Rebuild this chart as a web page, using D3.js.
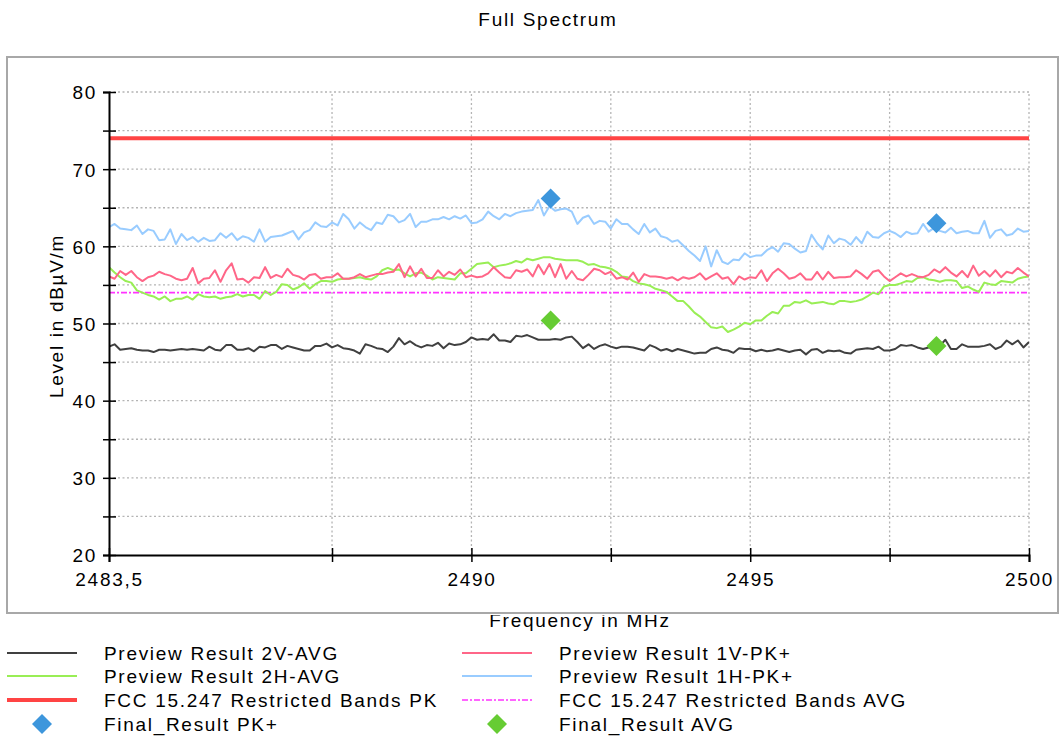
<!DOCTYPE html>
<html><head><meta charset="utf-8">
<script src="https://cdn.jsdelivr.net/npm/d3@7"></script>
<style>
html,body{margin:0;padding:0;background:#fff;}
text{font-family:"Liberation Sans",Arial,sans-serif;letter-spacing:1.7px;fill:#000;}
</style></head>
<body>
<svg id="chart" width="1064" height="738"></svg>
<script>
// ---- data ----
const chartTitle = "Full Spectrum";
const xTitle = "Frequency in MHz";
const yTitle = "Level in dBµV/m";
const freqStart = 2483.5;
const freqStep = 0.1;
const xDomain = [2483.5, 2500];
const yDomain = [20, 80];
const xTickValues = [2483.5, 2487.5, 2490, 2492.5, 2495, 2497.5, 2500];
const xTickLabels = ["2483,5", "", "2490", "", "2495", "", "2500"];
const yTickValues = [20, 25, 30, 35, 40, 45, 50, 55, 60, 65, 70, 75, 80];
const yTickLabels = ["20", "", "30", "", "40", "", "50", "", "60", "", "70", "", "80"];

const preview1H_PK = [62.5,62.9,62.3,62.2,62.1,62.7,61.6,62.2,62.0,60.8,60.9,62.2,60.3,61.6,60.8,61.2,60.6,61.1,60.7,60.8,61.7,61.1,61.7,60.8,61.3,61.1,60.6,62.2,60.6,
61.2,61.3,61.4,61.7,62.0,60.9,61.8,62.1,63.1,62.6,62.5,63.1,62.7,64.2,63.5,62.3,63.1,62.5,62.1,63.1,62.9,64.1,63.9,63.1,63.4,64.2,62.5,63.2,
63.2,63.5,63.5,63.8,63.5,63.9,63.6,64.0,63.0,63.1,63.5,64.5,63.9,63.5,64.2,63.9,64.3,64.5,64.6,64.7,66.0,64.0,65.2,64.6,64.8,64.9,64.5,62.9,63.7,
64.0,62.9,63.3,63.2,62.3,63.5,62.9,62.9,62.2,61.6,62.9,61.8,62.3,61.3,61.1,60.6,60.8,60.1,59.4,58.8,58.1,60.0,57.4,59.5,58.0,57.7,58.3,58.2,
59.1,58.6,58.8,58.8,59.5,59.9,59.3,60.4,60.3,59.7,59.2,59.4,61.5,60.4,59.6,61.4,60.4,61.0,60.8,60.2,61.2,60.4,61.9,61.2,61.1,61.7,62.0,61.7,61.2,
61.9,61.6,61.7,62.9,61.9,62.4,62.0,61.8,62.4,61.7,61.9,62.0,61.7,61.7,63.3,61.1,62.0,62.2,61.4,61.6,62.3,61.9,62.0];

const preview1V_PK = [56.1,55.8,56.8,56.3,56.8,56.0,55.5,56.0,56.2,56.7,56.4,56.2,55.8,55.6,55.8,57.2,55.2,55.8,55.9,56.9,55.4,56.9,57.8,55.7,55.8,55.3,56.0,55.9,57.3,
55.9,56.3,56.0,57.1,56.3,56.1,55.7,56.3,56.4,55.8,56.0,56.0,56.5,55.8,55.8,56.0,56.4,56.0,56.2,56.4,56.4,56.6,56.7,57.7,56.0,57.4,56.1,57.1,
55.9,55.9,56.9,56.1,56.7,56.3,57.0,56.0,56.2,56.0,56.1,56.5,57.3,56.6,56.0,55.9,56.9,56.7,57.0,56.1,57.6,56.4,57.7,56.0,57.7,55.8,56.8,55.8,55.6,
56.3,57.1,56.9,56.4,56.7,55.8,56.0,55.7,56.6,55.4,56.4,56.1,56.1,56.0,55.8,56.0,55.6,56.0,55.8,56.0,56.5,55.7,56.1,56.5,55.8,56.0,55.1,56.1,
55.7,56.0,55.9,56.9,55.5,56.5,57.1,56.5,55.8,56.0,56.5,55.7,55.7,56.7,55.7,56.7,55.9,56.0,56.0,56.1,56.9,56.4,55.8,56.7,56.9,56.1,55.5,56.0,56.5,
56.1,56.4,56.1,56.0,56.3,57.0,56.6,57.3,56.6,56.1,56.8,56.0,57.5,56.2,56.8,56.1,56.9,56.0,56.7,56.5,57.2,56.6,56.1];

const preview2H_AVG = [57.3,56.6,56.0,55.5,55.3,54.3,54.0,53.7,53.5,53.1,53.5,52.9,53.2,53.2,53.5,53.1,53.8,53.5,53.4,53.5,53.2,53.4,53.5,53.8,53.5,53.7,53.7,53.2,54.2,
53.7,54.1,55.1,55.0,54.4,54.7,55.2,54.5,55.1,55.5,55.5,55.4,55.7,55.8,55.8,55.9,56.0,55.8,55.7,56.1,56.9,57.2,56.9,57.0,56.5,56.1,56.5,56.6,
56.2,55.7,56.0,55.9,55.8,55.7,56.5,56.5,57.1,57.7,57.8,57.9,57.3,57.5,57.6,57.8,58.1,57.9,58.4,58.2,58.4,58.6,58.6,58.4,58.3,58.2,58.2,58.2,58.0,
57.6,57.7,57.4,57.3,57.1,56.7,56.1,56.0,55.5,55.2,55.1,54.9,54.5,54.3,54.1,53.5,52.9,52.9,52.2,51.4,50.9,50.2,49.5,49.4,49.6,48.9,49.2,49.6,
50.1,49.9,50.4,50.4,51.0,51.5,51.3,52.3,52.3,52.8,52.7,53.0,52.6,52.7,52.8,52.6,52.5,52.9,52.9,52.8,52.9,53.1,53.5,54.0,53.8,54.8,55.0,55.0,55.2,
55.5,55.4,55.9,56.0,55.7,55.6,55.4,55.6,55.6,55.5,54.6,54.8,54.4,54.1,55.3,55.1,55.0,55.5,55.4,55.3,55.8,56.0,56.1];

const preview2V_AVG = [47.0,47.3,46.6,46.7,46.8,46.6,46.5,46.5,46.3,46.6,46.6,46.5,46.6,46.7,46.6,46.7,46.6,46.5,47.0,46.6,46.5,47.2,47.2,46.6,46.6,46.8,46.4,47.0,46.9,
47.2,47.2,46.7,47.1,46.9,46.7,46.5,46.5,47.1,47.1,47.4,46.9,47.2,46.8,46.7,46.5,46.1,47.3,47.1,46.8,46.7,46.3,47.0,48.1,47.3,47.7,47.2,46.9,
47.2,47.1,47.5,46.8,47.4,47.2,47.3,47.6,48.2,47.9,48.0,47.9,48.6,47.8,47.8,47.6,48.4,48.3,48.5,48.2,47.9,47.9,47.9,48.0,47.9,48.2,48.3,47.6,46.8,
47.3,46.7,47.1,47.3,47.0,46.8,47.0,47.0,46.9,46.7,46.5,47.2,46.9,46.5,46.7,46.4,46.7,46.5,46.3,46.1,46.2,46.2,46.7,46.9,46.6,46.5,46.2,46.8,
46.7,46.7,46.4,46.6,46.4,46.5,46.7,46.5,46.3,46.5,46.6,46.0,46.6,46.7,46.2,46.5,46.4,46.5,46.2,46.1,46.6,46.7,46.8,46.7,47.0,46.5,46.5,46.7,47.2,
47.1,47.2,46.9,46.7,46.9,47.0,47.1,47.9,46.7,46.7,47.3,47.0,47.0,47.0,47.1,47.3,46.7,47.0,47.8,47.3,47.8,46.9,47.6];

const limitPK = 74;
const limitAVG = 54;
const finalPKFreq = [2491.42, 2498.34];
const finalPKLevel = [66.2, 63.0];
const finalAVGFreq = [2491.42, 2498.34];
const finalAVGLevel = [50.4, 47.1];

const legendNames = ["Preview Result 2V-AVG","Preview Result 1V-PK+","Preview Result 2H-AVG","Preview Result 1H-PK+",
  "FCC 15.247 Restricted Bands PK","FCC 15.247 Restricted Bands AVG","Final_Result PK+","Final_Result AVG"];

// ---- styles ----
const C = {
  v2avg: "#404040", v1pk: "#ff6688", h2avg: "#99ee55", h1pk: "#99ccff",
  limPK: "#ff4444", limAVG: "#ff33ff", dPK: "#3d96dc", dAVG: "#66cc33"
};
const FS = 19;

const svg = d3.select("#chart");
const W = 1064, H = 738;
const x = d3.scaleLinear().domain(xDomain).range([109, 1029]);
const y = d3.scaleLinear().domain(yDomain).range([555, 92]);

svg.append("rect").attr("width", W).attr("height", H).attr("fill", "#fff");
// frame
svg.append("rect").attr("x", 7).attr("y", 57).attr("width", 1051).attr("height", 556)
  .attr("fill", "none").attr("stroke", "#a8a8a8").attr("stroke-width", 2);

// title
svg.append("text").attr("x", 548).attr("y", 26).attr("text-anchor", "middle")
  .attr("font-size", FS).text(chartTitle);

// grid
const g = svg.append("g");
g.selectAll(".hg").data(yTickValues.filter(v => v > yDomain[0])).enter().append("line")
  .attr("x1", x(xDomain[0])).attr("x2", x(xDomain[1]))
  .attr("y1", d => y(d)).attr("y2", d => y(d))
  .attr("stroke", "#b4b4b4").attr("stroke-width", 1.3).attr("stroke-dasharray", "2,2.5");
g.selectAll(".vg").data(xTickValues.filter(v => v > xDomain[0])).enter().append("line")
  .attr("y1", y(yDomain[0])).attr("y2", y(yDomain[1]))
  .attr("x1", d => x(d)).attr("x2", d => x(d))
  .attr("stroke", "#b4b4b4").attr("stroke-width", 1.3).attr("stroke-dasharray", "2,2.5");

// clip
svg.append("clipPath").attr("id", "plotclip").append("rect")
  .attr("x", x(xDomain[0])).attr("y", y(yDomain[1])).attr("width", x(xDomain[1]) - x(xDomain[0]))
  .attr("height", y(yDomain[0]) - y(yDomain[1]));

const plot = svg.append("g").attr("clip-path", "url(#plotclip)");
const toPts = arr => arr.map((v, i) => [freqStart + i * freqStep, v]);
const line = d3.line().x(d => x(d[0])).y(d => y(d[1]));

// limits
plot.append("path").datum([[xDomain[0], limitAVG], [xDomain[1], limitAVG]]).attr("d", line)
  .attr("fill", "none").attr("stroke", C.limAVG).attr("stroke-width", 1.6).attr("stroke-dasharray", "6,2,2,2");

const series = [
  [preview2V_AVG, C.v2avg],
  [preview2H_AVG, C.h2avg],
  [preview1V_PK, C.v1pk],
  [preview1H_PK, C.h1pk]
];
series.forEach(([arr, col]) => {
  plot.append("path").datum(toPts(arr)).attr("d", line)
    .attr("fill", "none").attr("stroke", col).attr("stroke-width", 2).attr("stroke-linejoin", "round");
});
plot.append("path").datum([[xDomain[0], limitPK], [xDomain[1], limitPK]]).attr("d", line)
  .attr("fill", "none").attr("stroke", C.limPK).attr("stroke-width", 4);

// diamonds
const diamond = r => `M0,${-r}L${r},0L0,${r}L${-r},0Z`;
svg.selectAll(".dpk").data(finalPKFreq.map((f, i) => [f, finalPKLevel[i]])).enter().append("path")
  .attr("d", diamond(10)).attr("transform", d => `translate(${x(d[0])},${y(d[1])})`).attr("fill", C.dPK);
svg.selectAll(".davg").data(finalAVGFreq.map((f, i) => [f, finalAVGLevel[i]])).enter().append("path")
  .attr("d", diamond(10)).attr("transform", d => `translate(${x(d[0])},${y(d[1])})`).attr("fill", C.dAVG);

// axes
const yAxis = d3.axisLeft(y).tickValues(yTickValues).tickFormat((d, i) => yTickLabels[i]).tickSize(6).tickPadding(6);
const ya = svg.append("g").attr("transform", `translate(${x(xDomain[0])},0)`).call(yAxis);
ya.select(".domain").attr("stroke", "#000").attr("stroke-width", 2);
ya.selectAll(".tick line").attr("x1", -6).attr("x2", 7).attr("stroke", "#000").attr("stroke-width", 1.5);
ya.selectAll(".tick text").attr("font-size", FS).attr("font-family", "Liberation Sans, Arial, sans-serif").attr("fill", "#000").attr("dy", "0.36em");

const xAxis = d3.axisBottom(x).tickValues(xTickValues).tickFormat((d, i) => xTickLabels[i]).tickSize(7).tickPadding(11);
const xa = svg.append("g").attr("transform", `translate(0,${y(yDomain[0])})`).call(xAxis);
xa.select(".domain").attr("stroke", "#000").attr("stroke-width", 2);
xa.selectAll(".tick line").attr("y1", -7).attr("y2", 7).attr("stroke", "#000").attr("stroke-width", 1.5);
xa.selectAll(".tick text").attr("font-size", FS).attr("font-family", "Liberation Sans, Arial, sans-serif").attr("fill", "#000");
ya.attr("font-family", null); xa.attr("font-family", null);

// axis titles
svg.append("clipPath").attr("id", "xtclip").append("rect").attr("x", 0).attr("y", 615).attr("width", W).attr("height", 40);
svg.append("text").attr("clip-path", "url(#xtclip)").attr("x", 580).attr("y", 627).attr("text-anchor", "middle")
  .attr("font-size", FS).text(xTitle);
svg.append("text").attr("transform", "translate(63,316) rotate(-90)").attr("text-anchor", "middle")
  .attr("font-size", FS).text(yTitle);

// legend
const legendRows = [653, 676, 700, 724];
const legendCols = [7, 462];
const legendItems = [
  {type: "line", color: C.v2avg, w: 2},
  {type: "line", color: C.v1pk, w: 2},
  {type: "line", color: C.h2avg, w: 2},
  {type: "line", color: C.h1pk, w: 2},
  {type: "line", color: C.limPK, w: 4},
  {type: "line", color: C.limAVG, w: 1.6, dash: "6,2,2,2"},
  {type: "diamond", color: C.dPK},
  {type: "diamond", color: C.dAVG}
];
legendItems.forEach((it, i) => {
  const cx = legendCols[i % 2], cy = legendRows[Math.floor(i / 2)];
  const lg = svg.append("g").attr("transform", `translate(${cx},${cy})`);
  if (it.type === "line") {
    lg.append("line").attr("x1", 0).attr("x2", 70).attr("y1", 0).attr("y2", 0)
      .attr("stroke", it.color).attr("stroke-width", it.w).attr("stroke-dasharray", it.dash || null);
  } else {
    lg.append("path").attr("d", diamond(10)).attr("transform", "translate(35,0)").attr("fill", it.color);
  }
  lg.append("text").attr("x", 97).attr("y", 7).attr("font-size", FS).text(legendNames[i]);
});
</script>
</body></html>
